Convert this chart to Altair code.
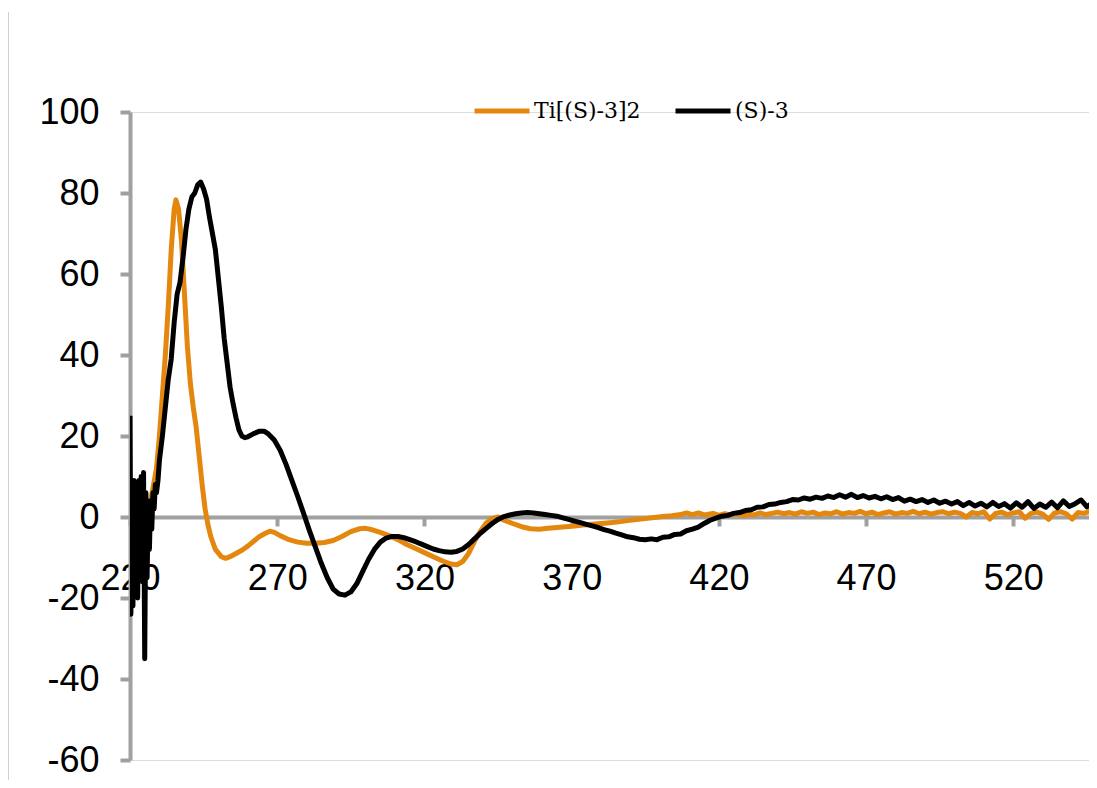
import altair as alt
import pandas as pd

# Ti[(S)-3]2 (orange)
ti_wl = [220, 221, 222, 223, 224, 225, 226, 227, 228, 229, 230, 231, 232, 233, 234, 235, 235.6,
         236.5, 237.5, 238.5, 239.5, 240.5, 241.5, 242.5, 243.5, 244.5, 245.5, 246.5, 247.5, 249,
         251, 252.5, 254, 256, 258, 260, 262, 264, 266, 267.5, 269, 271, 274, 277, 280, 283, 286,
         289, 292, 295, 298, 300, 302, 305, 308, 311, 314, 317, 320, 323, 326, 329, 331, 333, 335,
         337, 339, 341, 343, 345, 347, 350, 353, 356, 359, 362, 365, 368, 371, 374, 377, 380, 383,
         386, 389, 392, 395, 398, 401, 404, 407, 409, 411, 413, 415,
         416, 418, 420, 422, 424, 426, 428, 430, 432, 434, 436, 438, 440, 442, 444, 446, 448, 450,
         452, 454, 456, 458, 460, 462, 464, 466, 468, 470, 472, 474, 476, 478, 480, 482, 484, 486,
         488, 490, 492, 494, 496, 498, 500, 502, 504, 506, 508, 510, 512, 514, 516, 518, 520, 522,
         524, 526, 528, 530, 532, 534, 536, 538, 540, 542, 544, 546, 548]
ti_val = [-2, 1, -1, 0, 1, 0, 2, 4, 8, 12, 20, 30, 40, 52, 66, 76, 78.3,
          76, 68, 55, 42, 33, 27, 22, 15, 8, 2, -2, -5, -8,
          -9.8, -10.2, -9.8, -9, -8.2, -7.2, -6, -4.8, -4, -3.5, -3.8, -4.6, -5.6, -6.2, -6.5, -6.5, -6.3,
          -5.8, -4.8, -3.6, -2.9, -2.8, -3.1, -3.8, -4.6, -5.6, -6.8, -7.8, -8.8, -9.8, -10.8, -11.6, -11.8, -11, -9,
          -6, -3.5, -1.5, -0.4, 0, -0.8, -1.6, -2.4, -2.9, -3.0, -2.8, -2.6, -2.4, -2.2, -2.0, -1.8, -1.6, -1.4,
          -1.2, -0.9, -0.6, -0.4, -0.1, 0.1, 0.3, 0.6, 1.0, 0.6, 1.0, 0.5,
          0.6, 0.9, 0.4, 0.8, 0.5, 0.9, 0.3, 0.7, 0.5, 1.0, 0.6, 0.9, 1.2, 0.8, 1.1, 0.7, 1.3, 0.9,
          1.2, 0.6, 1.0, 0.8, 1.3, 0.7, 1.1, 0.9, 1.4, 0.8, 1.2, 0.6, 1.0, 1.3, 0.7, 1.1, 0.9, 1.4,
          0.8, 1.2, 0.7, 1.1, 1.3, 0.8, 1.2, 0.9, 0.0, 1.1, 0.8, 1.3, -0.5, 0.9, 1.2, 0.6, 1.0, 1.3,
          -0.3, 0.9, 1.2, 0.7, -0.6, 1.0, 1.3, 0.8, -0.5, 1.1, 0.9, 1.4, 1.0]

# (S)-3 (black)
s3_wl = [220, 220.3, 220.7, 221, 221.4, 221.8, 222.2, 222.6, 223, 223.4, 223.8, 224.2, 224.6, 225,
         225.4, 225.8, 226.2, 226.6, 227, 227.4, 227.8, 228.2, 228.6, 229, 229.5, 230, 231, 232, 233,
         234, 235, 236, 237, 238, 239, 240, 241, 242, 243, 244, 245, 246, 247, 248, 249, 250, 251,
         252, 253, 254, 255, 256, 257, 258, 259, 260, 262, 264, 265.5, 267, 269, 271, 273, 275, 277,
         279, 281, 283, 285, 287, 289, 291, 293, 295, 297, 299, 301, 303, 305, 307, 309, 311, 313,
         315, 317, 319, 321, 323, 325, 327, 329, 331, 333, 335, 337, 339, 341, 343, 345, 347, 349,
         351, 353, 355, 357, 359, 361, 363,
         365, 367, 369, 371, 373, 375, 377, 379, 381, 383, 385, 387, 389, 391, 393, 395, 397, 399,
         401, 403, 405, 407, 409, 411, 413, 415, 417, 419, 421, 423, 425, 427, 429, 431, 433, 435,
         437, 439, 441, 443, 445, 447, 449, 451, 453, 455, 457, 459, 461, 463, 465, 467, 469, 471,
         473, 475, 477, 479, 481, 483, 485, 487, 489, 491, 493, 495, 497, 499, 501, 503, 505, 507,
         509, 511, 513, 515, 517, 519, 521, 523, 525, 527, 529, 531, 533, 535, 537, 539, 541, 543,
         545, 547, 548]
s3_val = [25, -24, 8, -22, 9, -18, 8, -20, 9, -14, 10, -16, 11, -35,
          6, -15, 2, -8, 4, -3, 6, 2, 8, 6, 9, 14, 20, 27, 34,
          39, 48, 55, 58, 64, 71, 76, 79, 80, 82, 82.7, 81, 78.5, 74, 70, 66, 59, 52,
          44, 38, 32, 28, 24.5, 21.5, 20, 19.6, 19.8, 20.6, 21.2, 21.2, 20.5, 19, 16.5, 13, 9, 5,
          0.8, -3.5, -7.5, -11.5, -15, -17.8, -19, -19.3, -18.5, -16.5, -13.5, -10.5, -8, -6.2, -5.2, -4.8, -4.8, -5.1,
          -5.6, -6.1, -6.7, -7.3, -7.9, -8.3, -8.6, -8.7, -8.5, -7.9, -6.8, -5.4, -4, -2.8, -1.6, -0.6, 0.1, 0.5,
          0.8, 1.0, 1.1, 1.0, 0.8, 0.6, 0.4,
          0.2, -0.2, -0.6, -1.0, -1.4, -1.8, -2.2, -2.6, -3.1, -3.5, -4.0, -4.4, -4.9, -5.1, -5.5, -5.6, -5.4, -5.6,
          -5.0, -4.9, -4.3, -4.2, -3.4, -3.0, -2.5, -1.6, -0.8, -0.3, 0.2, 0.4, 0.9, 1.1, 1.6, 1.8, 2.4, 2.5,
          3.1, 3.2, 3.6, 3.8, 4.3, 4.2, 4.7, 4.4, 4.9, 4.6, 5.2, 4.8, 5.5, 4.9, 5.6, 4.8, 5.3, 4.7,
          5.1, 4.5, 5.0, 4.3, 4.8, 3.9, 4.4, 3.8, 4.3, 3.6, 4.2, 3.4, 3.9, 3.2, 3.8, 2.8, 3.6, 2.7,
          3.4, 2.5, 3.6, 2.6, 3.3, 2.2, 3.5, 2.4, 3.8, 2.1, 3.2, 2.4, 3.7, 2.3, 4.0, 2.6, 3.3, 4.2,
          2.5, 3.6, 3.0]

series_names = ["Ti[(S)-3]2", "(S)-3"]
series_colors = ["#E3870E", "#000000"]
x_ticks = [220, 270, 320, 370, 420, 470, 520]
y_ticks = [-60, -40, -20, 0, 20, 40, 60, 80, 100]

df = pd.concat([
    pd.DataFrame({"wl": ti_wl, "cd": ti_val, "series": series_names[0], "o": 0}),
    pd.DataFrame({"wl": s3_wl, "cd": s3_val, "series": series_names[1], "o": 1}),
])

axis_gray = "#A0A0A0"

lines = alt.Chart(df).mark_line(strokeWidth=5, clip=True, strokeJoin="round").encode(
    x=alt.X("wl:Q", scale=alt.Scale(domain=[220, 545.7], nice=False, zero=False),
            axis=alt.Axis(values=x_ticks, title=None, grid=False, offset=-243,
                          tickSize=9, labelPadding=35, labelFlush=False, labelOverlap=False,
                          domainWidth=4, tickWidth=4, domainColor=axis_gray, tickColor=axis_gray)),
    y=alt.Y("cd:Q", scale=alt.Scale(domain=[-60, 100], nice=False, zero=False),
            axis=alt.Axis(values=y_ticks, title=None, grid=False,
                          tickSize=10, labelPadding=21, labelFlush=False, labelOverlap=False,
                          domainWidth=4, tickWidth=4, domainColor=axis_gray, tickColor=axis_gray,
                          labelExpr="datum.value < 0 ? '-' + abs(datum.value) : '' + datum.value")),
    color=alt.Color("series:N", scale=alt.Scale(domain=series_names, range=series_colors),
                    legend=alt.Legend(orient="none", legendX=342, legendY=-31, direction="horizontal",
                                      title=None, symbolType="stroke", symbolSize=3025,
                                      symbolStrokeWidth=5, labelFont="DejaVu Serif",
                                      labelFontSize=22, labelColor="#000000", columnPadding=24,
                                      labelOffset=2, padding=0)),
    order=alt.Order("o:Q"),
    detail="series:N",
)

border = alt.Chart(pd.DataFrame({"a": [0]})).mark_rule(color="#D0D0D0", strokeWidth=1).encode(
    x=alt.value(-121.5), y=alt.value(-100), y2=alt.value(690)
)

chart = alt.layer(border, lines).properties(
    width=959, height=648,
    padding={"left": 122, "top": 104, "right": 0, "bottom": 20},
    autosize=alt.AutoSizeParams(type="none"),
).configure_view(stroke=None).configure(background="white").configure_axis(
    labelFont="Liberation Sans", labelFontSize=36, labelColor="#000000"
)

chart.save("out.html", embed_options={"renderer": "svg", "actions": False})
